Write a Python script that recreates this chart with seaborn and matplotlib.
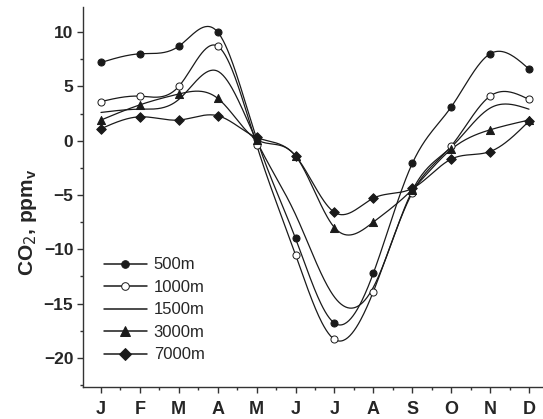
import numpy as np
import pandas as pd
import matplotlib
matplotlib.use("Agg")
import matplotlib.pyplot as plt
from matplotlib.ticker import MultipleLocator
from matplotlib.lines import Line2D
import seaborn as sns

months = ["J", "F", "M", "A", "M", "J", "J", "A", "S", "O", "N", "D"]

co2_500 = [7.2, 8.0, 8.7, 10.0, 0.2, -9.0, -16.8, -12.2, -2.1, 3.1, 8.0, 6.6]
co2_1000 = [3.6, 4.1, 5.0, 8.7, -0.4, -10.5, -18.3, -13.9, -4.8, -0.5, 4.1, 3.8]
co2_1500 = [2.6, 2.9, 3.8, 6.4, 0.0, -6.8, -14.4, -13.5, -4.6, -0.6, 3.0, 2.9]
co2_3000 = [1.9, 3.3, 4.3, 3.9, 0.1, -1.4, -8.0, -7.5, -4.5, -0.8, 1.0, 1.9]
co2_7000 = [1.1, 2.2, 1.9, 2.3, 0.3, -1.4, -6.6, -5.3, -4.4, -1.7, -1.0, 1.8]

series = [
    ("500m", co2_500, "o", "#1a1a1a"),
    ("1000m", co2_1000, "o", "white"),
    ("1500m", co2_1500, None, None),
    ("3000m", co2_3000, "^", "#1a1a1a"),
    ("7000m", co2_7000, "D", "#1a1a1a"),
]
marker_area = {"o": 26, "^": 34, "D": 24}
legend_msize = {"o": 5.5, "^": 6.5, "D": 6}


def natural_spline(x, y, n=400):
    """Natural cubic spline through (x, y), evaluated on a fine grid."""
    x = np.asarray(x, float)
    y = np.asarray(y, float)
    k = len(x)
    h = np.diff(x)
    A = np.zeros((k, k))
    b = np.zeros(k)
    A[0, 0] = A[-1, -1] = 1.0
    for i in range(1, k - 1):
        A[i, i - 1] = h[i - 1]
        A[i, i] = 2 * (h[i - 1] + h[i])
        A[i, i + 1] = h[i]
        b[i] = 3 * ((y[i + 1] - y[i]) / h[i] - (y[i] - y[i - 1]) / h[i - 1])
    c = np.linalg.solve(A, b)
    xs = np.linspace(x[0], x[-1], n)
    idx = np.clip(np.searchsorted(x, xs) - 1, 0, k - 2)
    dx = xs - x[idx]
    bb = (y[idx + 1] - y[idx]) / h[idx] - h[idx] * (2 * c[idx] + c[idx + 1]) / 3
    dd = (c[idx + 1] - c[idx]) / (3 * h[idx])
    ys = y[idx] + bb * dx + c[idx] * dx ** 2 + dd * dx ** 3
    return xs, ys


sns.set_style("ticks")
plt.rcParams["font.family"] = ["Liberation Sans", "DejaVu Sans"]

fig = plt.figure(figsize=(5.43, 4.19), dpi=100)
ax = fig.add_axes([0.153, 0.076, 0.847, 0.907])

pos = np.arange(len(months))
line_col = "#1a1a1a"
handles = []
for name, vals, mk, fc in series:
    xs, ys = natural_spline(pos, vals)
    sns.lineplot(x=xs, y=ys, ax=ax, color=line_col, lw=0.9, sort=False)
    if mk is not None:
        sns.scatterplot(x=pos, y=vals, ax=ax, marker=mk, s=marker_area[mk],
                        facecolor=fc, edgecolor=line_col, linewidth=0.7, zorder=3)
    handles.append(Line2D([], [], color=line_col, lw=1.1, marker=mk,
                          markersize=legend_msize.get(mk, 0),
                          markerfacecolor=fc if fc else line_col,
                          markeredgecolor=line_col, markeredgewidth=0.7,
                          label=name))

ax.set_xlim(-0.46, 11.36)
ax.set_ylim(-22.7, 12.3)
ax.set_xticks(pos)
ax.set_xticklabels(months, fontsize=13, fontweight="bold")
ax.xaxis.set_minor_locator(MultipleLocator(0.5))
ax.yaxis.set_major_locator(MultipleLocator(5))
ax.yaxis.set_minor_locator(MultipleLocator(2.5))
for lbl in ax.get_yticklabels():
    lbl.set_fontsize(12.5)
    lbl.set_fontweight("bold")
ax.tick_params(axis="both", which="major", length=4, width=1, color="#333333", pad=3)
ax.tick_params(axis="both", which="minor", length=2.5, width=1, color="#333333")
ax.tick_params(axis="x", pad=6)

sns.despine(ax=ax, top=True, right=True)
for side in ("left", "bottom"):
    ax.spines[side].set_linewidth(1.0)
    ax.spines[side].set_color("#333333")

ax.set_ylabel(r"CO$_2$, ppm$_\mathregular{v}$", fontsize=15, fontweight="bold")
ax.yaxis.set_label_coords(-0.095, 0.435)
ax.set_xlabel("")

ax.legend(handles=handles, loc="lower left", bbox_to_anchor=(0.045, 0.065),
          frameon=False, fontsize=12, handlelength=2.6, handletextpad=0.4,
          labelspacing=0.45, borderaxespad=0.0, borderpad=0.0)

fig.savefig("out.png", dpi=100)
